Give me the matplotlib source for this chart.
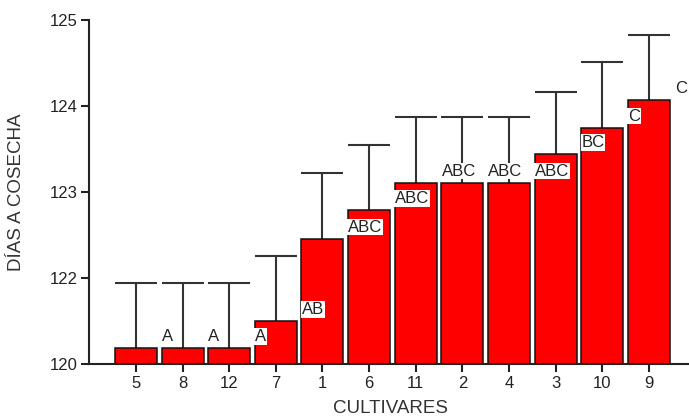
import matplotlib

matplotlib.use("Agg")

import matplotlib.pyplot as plt
import numpy as np

plt.rcParams["font.family"] = ["Liberation Sans", "DejaVu Sans"]

# Cultivars ordered by mean days to harvest
CULTIVARS = ["5", "8", "12", "7", "1", "6", "11", "2", "4", "3", "10", "9"]
MEAN_DAYS = [120.38, 120.38, 120.38, 121.0, 122.46, 122.79, 123.11, 123.11, 123.11, 123.44, 123.75, 124.07]
UPPER_ERR = [1.5, 1.5, 1.5, 1.26, 0.76, 0.76, 0.76, 0.76, 0.76, 0.73, 0.76, 0.76]
GROUPS = ["A", "A", "A", "AB", "ABC", "ABC", "ABC", "ABC", "ABC", "BC", "C", "C"]

Y_TICKS = [120, 122, 123, 124, 125]


def forward(y):
    # 120-122 is drawn at half scale, the rest is linear
    y = np.asarray(y, dtype=float)
    return np.where(y < 122, 121 + (y - 120) / 2, y)


def inverse(u):
    u = np.asarray(u, dtype=float)
    return np.where(u < 122, 120 + 2 * (u - 121), u)


fig = plt.figure(figsize=(6.89, 4.2), dpi=100)
ax = fig.add_axes([0.1296, 0.1326, 0.8704, 0.8194])

x = np.arange(len(CULTIVARS))
width = 0.9
means = np.array(MEAN_DAYS)
tops = means + np.array(UPPER_ERR)

ax.set_yscale("function", functions=(forward, inverse))

ax.bar(x, means - 120, bottom=120, width=width, color="#ff0000",
       edgecolor="#111111", linewidth=1.1, zorder=2)
ax.vlines(x, means, tops, color="#333333", linewidth=1.5, zorder=1)
ax.hlines(tops, x - width / 2, x + width / 2, color="#333333", linewidth=1.5, zorder=1)

for xi, mean, group in zip(x, means, GROUPS):
    ax.annotate(group, xy=(xi + width / 2, mean), xytext=(3.5, 3),
                textcoords="offset points", ha="left", va="bottom",
                fontsize=12, color="#222222", zorder=3,
                bbox=dict(facecolor="white", edgecolor="none", pad=0.6))

ax.set_xlim(-1.0, 11.86)
ax.set_ylim(120, 125)
ax.set_xticks(x)
ax.set_xticklabels(CULTIVARS)
ax.set_yticks(Y_TICKS)
ax.set_yticklabels([str(t) for t in Y_TICKS])
ax.minorticks_off()

for side in ("top", "right"):
    ax.spines[side].set_visible(False)
for side in ("left", "bottom"):
    ax.spines[side].set_linewidth(1.5)
    ax.spines[side].set_color("#222222")

ax.tick_params(axis="both", labelsize=12, width=1.5, length=6,
               color="#222222", labelcolor="#222222", pad=2.5)

ax.set_ylabel("DÍAS A COSECHA", fontsize=13.5, color="#333333")
ax.yaxis.set_label_coords(-0.107, 0.5)
ax.set_xlabel("CULTIVARES", fontsize=13.5, color="#333333", va="center")
ax.xaxis.set_label_coords(0.503, -0.127)

fig.savefig("out.png", dpi=100)
